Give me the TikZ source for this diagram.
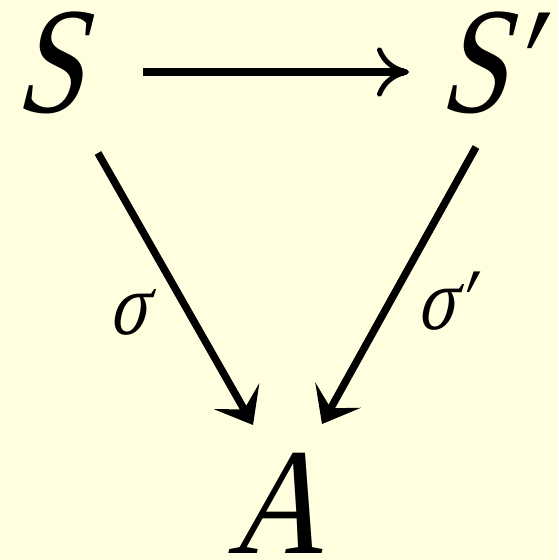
\documentclass[tikz,border=0pt]{standalone}
\usepackage{fontspec}
\setmainfont{Liberation Serif}
\newfontfamily\tmsi{Liberation Serif}[FakeSlant=0.25,FakeStretch=0.8]
\newfontfamily\tmsa{Liberation Serif}[FakeSlant=0.25,FakeStretch=0.87]
\usetikzlibrary{arrows.meta}
\definecolor{bg}{HTML}{FFFFE0}
\begin{document}
\begin{tikzpicture}[x=1pt,y=-1pt,
  lbl/.style={inner sep=0pt, anchor=base west, text height=100pt, text depth=2pt, font=\tmsi\fontsize{152}{152}\selectfont},
  albl/.style={inner sep=0pt, anchor=base west, text height=100pt, text depth=0pt, font=\tmsa\fontsize{152}{152}\selectfont},
  glbl/.style={inner sep=0pt, anchor=base west, text height=45pt, text depth=2pt, font=\tmsi\fontsize{88}{88}\selectfont},
  harr/.style={line width=7.5pt, -{Computer Modern Rightarrow[length=32pt,width=49pt,line width=5pt]}},
  darr/.style={line width=7.5pt, -{Stealth[length=33pt,width=52pt,inset=15pt]}}]
\fill[bg] (0,0) rectangle (558,560);
\useasboundingbox (0,0) rectangle (558,560);
\node[lbl] (S) at (14,112) {S};
\node[lbl] (Sp) at (438,112) {S′};
\node[albl] (A) at (227,553) {A};
\node[glbl] (s1) at (108,334) {σ};
\node[glbl] (s2) at (416,329) {σ′};
\coordinate (h1) at (143,72);
\coordinate (h2) at (409,72);
\coordinate (l1) at (98,153);
\coordinate (l2) at (253,425);
\coordinate (r1) at (476,147);
\coordinate (r2) at (322,424);
\draw[harr] (h1) -- (h2);
\draw[darr] (l1) -- (l2);
\draw[darr] (r1) -- (r2);
\end{tikzpicture}
\end{document}
